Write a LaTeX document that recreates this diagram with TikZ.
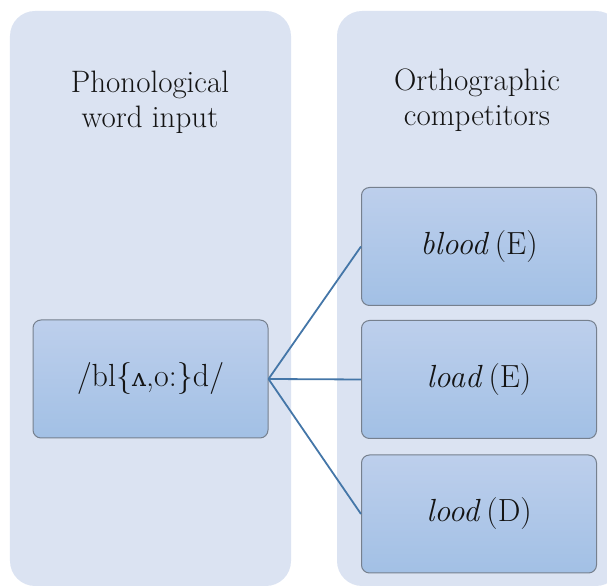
\documentclass[tikz,border=0pt]{standalone}
\usepackage{fontspec}
\newfontfamily\ipafont{DejaVu Serif}
\definecolor{panelfill}{RGB}{219,227,242}
\definecolor{boxtop}{RGB}{189,207,236}
\definecolor{boxbot}{RGB}{162,192,229}
\definecolor{boxedge}{RGB}{118,128,142}
\definecolor{linkblue}{RGB}{68,118,168}
\tikzset{
  panel/.style={fill=panelfill, rounded corners=12.5pt, minimum height=287.5pt, inner sep=0pt},
  heading/.style={align=center, font=\fontsize{15.5}{17.5}\selectfont, text=black!92},
  wordbox/.style={draw=boxedge, line width=0.5pt, rounded corners=4pt, top color=boxtop, bottom color=boxbot,
    minimum width=117.5pt, minimum height=59pt, font=\fontsize{16}{19}\selectfont, text=black!92},
  link/.style={draw=linkblue, line width=0.9pt}
}
\begin{document}
\begin{tikzpicture}[x=0.5pt,y=-0.5pt]
  \useasboundingbox (0,0) rectangle (607,587);
  \node[panel, minimum width=140.5pt] (leftpanel) at (150.5,298.5) {};
  \node[panel, minimum width=142pt] (rightpanel) at (479,298.5) {};
  \node[heading] (inhead) at (150,102) {Phonological\\word input};
  \node[heading] (comphead) at (477,100) {Orthographic\\competitors};
  \node[wordbox] (input) at (150.5,379) {/bl\{{\ipafont\fontsize{12.5}{15}\selectfont ʌ},o:\}d/};
  \node[wordbox] (blood) at (479,246.5) {\textit{blood}\hspace{0.18em}(E)};
  \node[wordbox] (load) at (479,379.5) {\textit{load}\hspace{0.18em}(E)};
  \node[wordbox] (lood) at (479,514) {\textit{lood}\hspace{0.18em}(D)};
  \draw[link] (input.east) to (blood.west);
  \draw[link] (input.east) to (load.west);
  \draw[link] (input.east) to (lood.west);
\end{tikzpicture}
\end{document}
